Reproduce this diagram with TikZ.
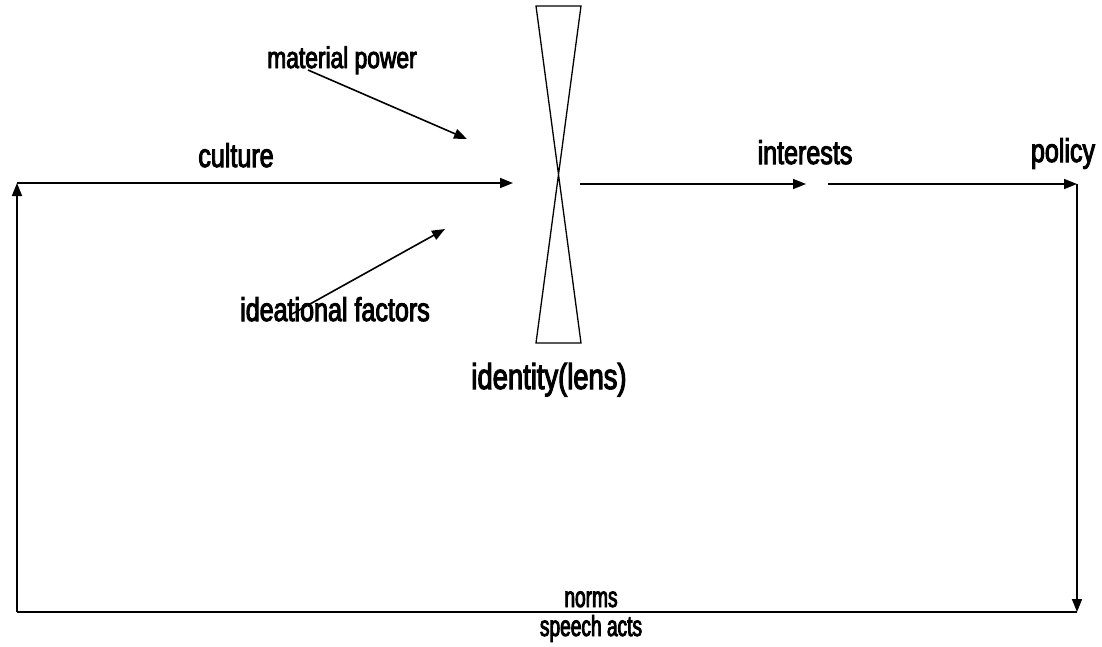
\documentclass[tikz,border=0pt]{standalone}
\usepackage{fontspec}
\newfontfamily\labfont[FakeStretch=0.76,FakeBold=3]{Liberation Sans}
\newfontfamily\smallfont[FakeStretch=0.66,FakeBold=3]{Liberation Sans}
\usetikzlibrary{arrows.meta}
\tikzset{
  conn/.style={line width=1.6pt, -{Triangle[length=13pt,width=10pt]}},
  plain/.style={line width=1.6pt},
  lab/.style={anchor=base, inner sep=0pt, font=\labfont\fontsize{#1}{#1}\selectfont},
  lab/.default=28,
  slab/.style={anchor=base, inner sep=0pt, font=\smallfont\fontsize{29}{29}\selectfont},
  lens/.style={line width=1.3pt}
}
\begin{document}
\begin{tikzpicture}[x=1pt,y=-1pt]
\useasboundingbox (0,0) rectangle (1102,646);
% lens
\draw[lens] (536,6) -- (581,6) -- (536,343) -- (581,343) -- cycle;
% coordinates
\coordinate (cl) at (17,183);
\coordinate (ce) at (513,183);
\coordinate (is) at (580,184);
\coordinate (ie) at (806,184);
\coordinate (ps) at (828,184);
\coordinate (pe) at (1077,184);
\coordinate (rb) at (1077,612);
\coordinate (lb) at (17,612);
\coordinate (ms) at (308,70);
\coordinate (me) at (467,139);
\coordinate (fs) at (292,314);
\coordinate (fe) at (445,229);
% labels
\node[lab=30] (mp) at (342,68) {material power};
\node[lab=33] (cu) at (236,167) {culture};
\node[lab=33] (in) at (805,164) {interests};
\node[lab=33] (po) at (1063,162) {policy};
\node[lab=33] (id) at (335,321) {ideational factors};
\node[lab=36] (il) at (549,389) {identity(lens)};
\node[slab] (no) at (591,607) {norms};
\node[slab] (sa) at (591,636) {speech acts};
% connectors
\draw[conn] (cl) -- (ce);
\draw[conn] (is) -- (ie);
\draw[conn] (ps) -- (pe);
\draw[conn] (pe) -- (rb);
\draw[plain] (rb) -- (lb);
\draw[conn] (lb) -- (cl);
\draw[conn] (ms) -- (me);
\draw[conn] (fs) -- (fe);
\end{tikzpicture}
\end{document}
